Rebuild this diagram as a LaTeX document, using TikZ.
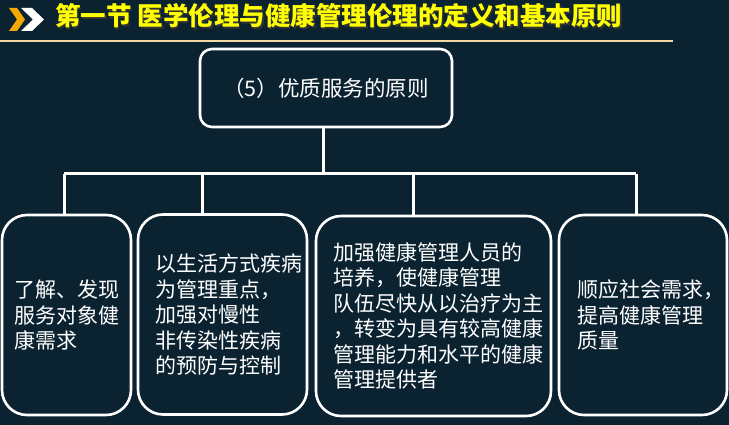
\documentclass[tikz,border=0pt]{standalone}
\usepackage{fontspec}
\setmainfont{Noto Sans CJK SC}
\usepackage{tikz}
\usetikzlibrary{positioning,calc}
\definecolor{slidebg}{HTML}{0B2331}
\definecolor{titleyellow}{HTML}{FFFF00}
\definecolor{rulebeige}{HTML}{F2D8A2}
\definecolor{chevorange}{HTML}{F5A800}

\begin{document}
\begin{tikzpicture}[x=1pt,y=-1pt,
  title/.style={anchor=west, inner sep=0pt, text=titleyellow,
                font=\fontsize{25.5pt}{29pt}\selectfont\bfseries},
  root/.style={draw=white, line width=2.6pt, rounded corners=12pt,
               minimum width=252pt, minimum height=78pt, text=white,
               font=\fontsize{21.5pt}{25.5pt}\selectfont},
  leaf/.style={draw=white, line width=2.6pt, rounded corners=25pt,
               minimum height=200pt, text=white, align=left,
               font=\fontsize{21pt}{25.5pt}\selectfont},
  link/.style={draw=white, line width=3pt}
]
\fill[slidebg] (0,0) rectangle (729,425);
\useasboundingbox (0,0) rectangle (729,425);

\fill[chevorange] (9,8) -- (17,8) -- (25,19.5) -- (17,31) -- (9,31) -- (17,19.5) -- cycle;
\fill[white] (21,8) -- (32,8) -- (44,19.5) -- (32,31) -- (21,31) -- (33,19.5) -- cycle;
\node[title, text=black!80] (shadow) at (56.5,17.5) {第一节 医学伦理与健康管理伦理的定义和基本原则};
\node[title] (head) at (55,16) {第一节 医学伦理与健康管理伦理的定义和基本原则};
\draw[rulebeige, line width=1.2pt] (0,41) -- (673,41);

\node[root] (top) at (326,88) {（5）优质服务的原则};

\node[leaf, minimum width=129pt, inner xsep=13pt, text width=103pt] (b1) at (66.5,315)
  {了解、发现\\服务对象健\\康需求};
\node[leaf, minimum width=169pt, inner xsep=17pt, text width=135pt] (b2) at (222.5,314.5)
  {以生活方式疾病\\为管理重点，\\加强对慢性\\非传染性疾病\\的预防与控制};
\node[leaf, minimum width=235pt, inner xsep=17pt, text width=201pt] (b3) at (433.5,316)
  {加强健康管理人员的\\培养，使健康管理\\队伍尽快从以治疗为主\\，转变为具有较高健康\\管理能力和水平的健康\\管理提供者};
\node[leaf, minimum width=168pt, inner xsep=18pt, text width=132pt] (b4) at (643,315)
  {顺应社会需求，\\提高健康管理\\质量};

\coordinate (stem) at (323,174);
\coordinate (d1) at (64,174);
\coordinate (d2) at (202,174);
\coordinate (d3) at (413,174);
\coordinate (d4) at (636,174);

\draw[link] (stem |- top.south) -- (stem);
\draw[link] (d1) -- (d4);
\draw[link] (d1) -- (d1 |- b1.north);
\draw[link] (d2) -- (d2 |- b2.north);
\draw[link] (d3) -- (d3 |- b3.north);
\draw[link] (d4) -- (d4 |- b4.north);
\end{tikzpicture}
\end{document}
